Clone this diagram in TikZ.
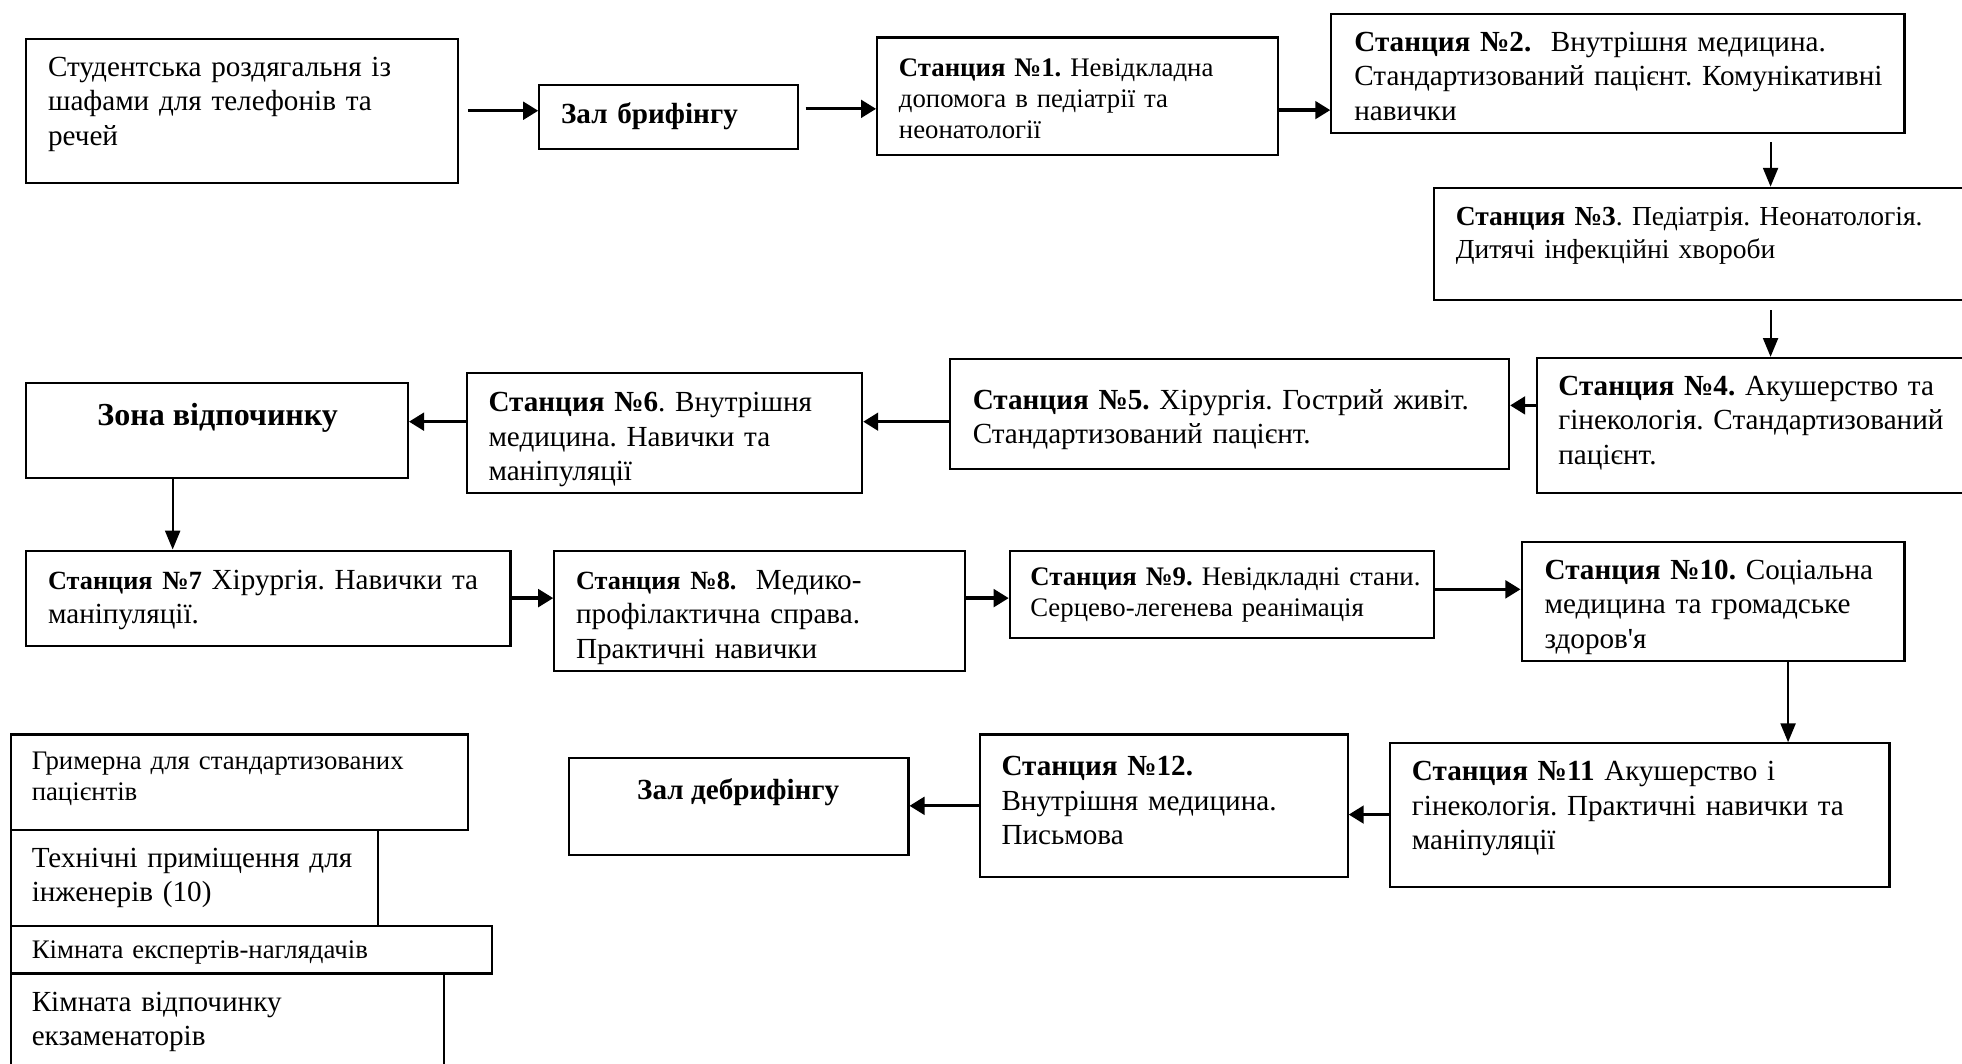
\documentclass[tikz,border=0pt]{standalone}
\usepackage{fontspec}
\setmainfont{Liberation Serif}
\newfontfamily\aposfont{Liberation Serif}
\usetikzlibrary{arrows.meta,fit,calc}
\newcommand\smallbold[1]{{\fontsize{10.5}{13.8}\selectfont\bfseries #1}}
\begin{document}
\frenchspacing
\begin{tikzpicture}[x=0.5pt,y=-0.5pt,
  box/.style={draw, line width=0.85pt, inner sep=0pt},
  txt/.style={anchor=base west, inner sep=0pt, align=left, text width=320pt},
  fA/.style={font=\fontsize{11.65}{13.8}\selectfont},
  fB/.style={font=\fontsize{10.7}{12.5}\selectfont},
  fC/.style={font=\fontsize{11}{13.1}\selectfont},
  fZ/.style={font=\fontsize{12.8}{15}\selectfont\bfseries},
  harr/.style={line width=1.3pt, -{Triangle[length=6pt,width=7pt]}},
  varr/.style={line width=0.8pt, -{Triangle[length=7.5pt,width=6pt]}},
]
\useasboundingbox (0,0) rectangle (1568,850);
\clip (0,0) rectangle (1568,850);

% boxes
\node[box, fit={(21,31)(366,146)}] (b0) {};
\node[box, fit={(431,68)(638,119)}] (b1) {};
\node[box, fit={(701,30)(1021,124)}] (s1) {};
\node[box, fit={(1064,11)(1522,106)}] (s2) {};
\node[box, fit={(1146,150)(1580,240)}] (s3) {};
\node[box, fit={(1228,286)(1580,394)}] (s4) {};
\node[box, fit={(759,287)(1206,375)}] (s5) {};
\node[box, fit={(373,298)(689,394)}] (s6) {};
\node[box, fit={(21,306)(326,382)}] (z) {};
\node[box, fit={(21,440)(408,516)}] (s7) {};
\node[box, fit={(443,440)(771,536)}] (s8) {};
\node[box, fit={(807,440)(1146,510)}] (s9) {};
\node[box, fit={(1216,433)(1522,528)}] (s10) {};
\node[box, fit={(1111,594)(1510,709)}] (s11) {};
\node[box, fit={(783,587)(1077,701)}] (s12) {};
\node[box, fit={(455,606)(726,683)}] (d) {};
\node[box, fit={(9,587)(374,663)}] (rA) {};
\node[box, fit={(9,663)(302,740)}] (rB) {};
\node[box, fit={(9,740)(393,778)}] (rC) {};
\node[box, fit={(9,778)(355,880)}] (rD) {};

% texts
\node[txt, fA] (t0) at (38,61) {Студентська роздягальня із\\шафами для телефонів та\\речей};
\node[txt, fA] (t1) at (448,99) {\textbf{Зал брифінгу}};
\node[txt, fB] (ts1) at (718,61) {\textbf{Станция №1.} Невідкладна\\допомога в педіатрії та\\неонатології};
\node[txt, fA] (ts2) at (1082,41) {\textbf{Станция №2.}\ \ Внутрішня медицина.\\Стандартизований пацієнт. Комунікативні\\навички};
\node[txt, fC] (ts3) at (1163,180.5) {\textbf{Станция №3}. Педіатрія. Неонатологія.\\Дитячі інфекційні хвороби};
\node[txt, fA] (ts4) at (1245,316) {\textbf{Станция №4.} Акушерство та\\гінекологія. Стандартизований\\пацієнт.};
\node[txt, fA] (ts5) at (777,327) {\textbf{Станция №5.} Хірургія. Гострий живіт.\\Стандартизований пацієнт.};
\node[txt, fA] (ts6) at (390,329) {\textbf{Станция №6}. Внутрішня\\медицина. Навички та\\маніпуляції};
\node[fZ, anchor=base, inner sep=0pt] (tz) at (174,340) {Зона відпочинку};
\node[txt, fA] (ts7) at (38,471) {\smallbold{Станция №7} Хірургія. Навички та\\маніпуляції.};
\node[txt, fA] (ts8) at (460,471) {\smallbold{Станция №8.}\ \ Медико-\\профілактична справа.\\Практичні навички};
\node[txt, fB] (ts9) at (823,468) {\textbf{Станция №9.} Невідкладні стани.\\Серцево-легенева реанімація};
\node[txt, fA] (ts10) at (1234,463) {\textbf{Станция №10.} Соціальна\\медицина та громадське\\здоров{\aposfont'}я};
\node[txt, fA] (ts11) at (1128,624) {\textbf{Станция №11} Акушерство і\\гінекологія. Практичні навички та\\маніпуляції};
\node[txt, fA] (ts12) at (800,620) {\textbf{Станция №12.}\\Внутрішня медицина.\\Письмова};
\node[fA, anchor=base, inner sep=0pt] (td) at (590,639) {\textbf{Зал дебрифінгу}};
\node[txt, fB] (tA) at (25,615) {Гримерна для стандартизованих\\пацієнтів};
\node[txt, fA] (tB) at (25,693) {Технічні приміщення для\\інженерів (10)};
\node[txt, fB] (tC) at (25,766) {Кімната експертів-наглядачів};
\node[txt, fA] (tD) at (25,808) {Кімната відпочинку\\екзаменаторів};

% connectors
\draw[harr] ($(b0.east)+(7,0)$) -- (b0.east -| b1.west);
\draw[harr] ($(b1.east |- 0,87)+(5,0)$) -- (s1.west |- 0,87);
\draw[harr] (s1.east |- 0,88) -- (s2.west |- 0,88);
\draw[varr] ($(s2.south -| 1415,0)+(0,7)$) -- (s3.north -| 1415,0);
\draw[varr] ($(s3.south -| 1415,0)+(0,7)$) -- (s4.north -| 1415,0);
\draw[harr] (s4.west |- 0,324) -- (s5.east |- 0,324);
\draw[harr] (s5.west |- 0,337) -- (s6.east |- 0,337);
\draw[harr] (s6.west |- 0,337) -- (z.east |- 0,337);
\draw[varr] (z.south -| 138,0) -- (s7.north -| 138,0);
\draw[harr] (s7.east |- 0,478) -- (s8.west |- 0,478);
\draw[harr] (s8.east |- 0,478) -- (s9.west |- 0,478);
\draw[harr] (s9.east |- 0,471) -- (s10.west |- 0,471);
\draw[varr] (s10.south -| 1429,0) -- (s11.north -| 1429,0);
\draw[harr] (s11.west |- 0,651) -- (s12.east |- 0,651);
\draw[harr] (s12.west |- 0,644) -- (d.east |- 0,644);
\end{tikzpicture}
\end{document}
